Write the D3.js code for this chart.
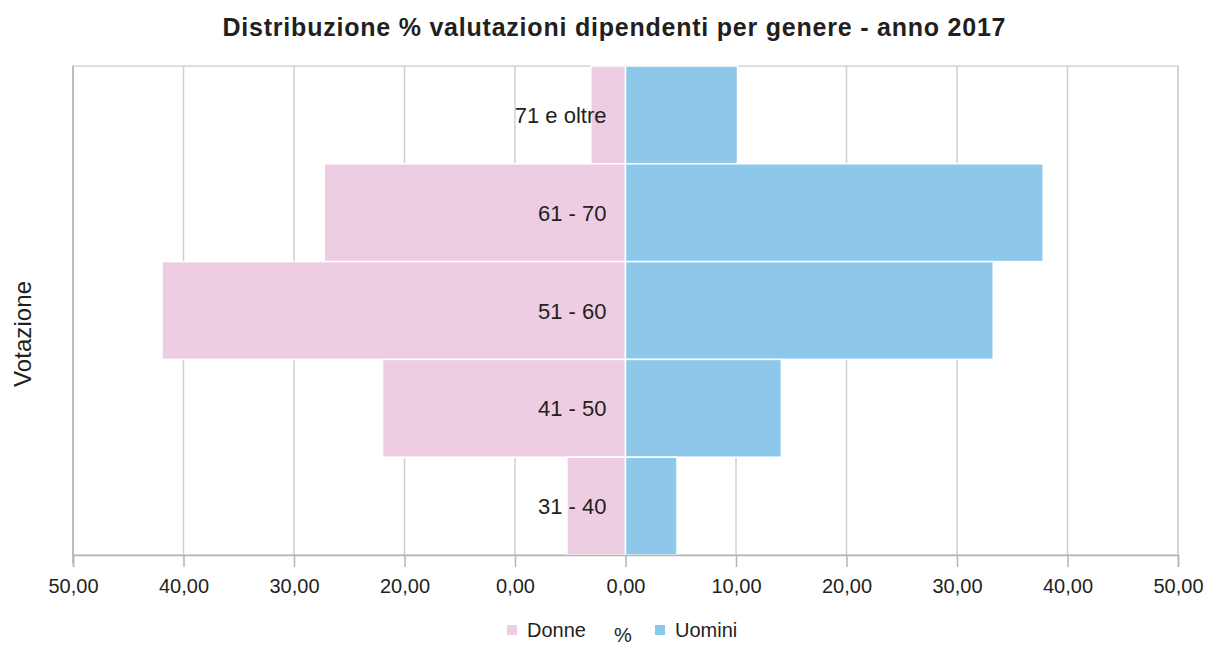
<!DOCTYPE html>
<html>
<head>
<meta charset="utf-8">
<script src="https://cdn.jsdelivr.net/npm/d3@7"></script>
<style>
  body { margin: 0; background: #fff; }
  svg { font-family: "Liberation Sans", Arial, sans-serif; }
</style>
</head>
<body>
<svg id="chart" width="1209" height="646"></svg>
<script>
// data
const categories = ["71 e oltre", "61 - 70", "51 - 60", "41 - 50", "31 - 40"];
const donne = [3.14, 27.26, 41.94, 21.98, 5.3];
const uomini = [10.14, 37.8, 33.28, 14.1, 4.66];
const tickValues = [-50, -40, -30, -20, -10, 0, 10, 20, 30, 40, 50];
// labels as printed in the original (note the "0,00" under -10)
const tickLabels = ["50,00", "40,00", "30,00", "20,00", "0,00", "0,00", "10,00", "20,00", "30,00", "40,00", "50,00"];

const svg = d3.select('#chart');
const plotLeft = 73, plotRight = 1178, plotTop = 66, plotBottom = 555;

const x = d3.scaleLinear().domain([-50, 50]).range([plotLeft, plotRight]);
const y = d3.scaleBand().domain(categories).range([plotTop, plotBottom]).padding(0);

// plot frame
svg.append('rect')
    .attr('x', plotLeft).attr('y', plotTop)
    .attr('width', plotRight - plotLeft).attr('height', plotBottom - plotTop)
    .attr('fill', 'none')
    .attr('stroke', '#d4d4d4')
    .attr('stroke-width', 1.5);

// vertical gridlines
svg.append('g')
    .selectAll('line')
    .data(tickValues)
    .enter()
    .append('line')
    .attr('x1', d => x(d)).attr('x2', d => x(d))
    .attr('y1', plotTop).attr('y2', plotBottom)
    .attr('stroke', '#cfcfcf')
    .attr('stroke-width', 1.5);

// bars
const rows = categories.map((c, i) => ({ cat: c, donne: donne[i], uomini: uomini[i] }));

svg.append('g')
    .selectAll('rect')
    .data(rows)
    .enter()
    .append('rect')
    .attr('x', d => x(-d.donne))
    .attr('y', d => y(d.cat))
    .attr('width', d => x(0) - x(-d.donne))
    .attr('height', y.bandwidth())
    .attr('fill', '#edcde1')
    .attr('stroke', '#fff')
    .attr('stroke-width', 1.5);

svg.append('g')
    .selectAll('rect')
    .data(rows)
    .enter()
    .append('rect')
    .attr('x', x(0))
    .attr('y', d => y(d.cat))
    .attr('width', d => x(d.uomini) - x(0))
    .attr('height', y.bandwidth())
    .attr('fill', '#8dc8eb')
    .attr('stroke', '#fff')
    .attr('stroke-width', 1.5);

// left axis line
svg.append('line')
    .attr('x1', plotLeft).attr('x2', plotLeft)
    .attr('y1', plotTop).attr('y2', plotBottom + 8)
    .attr('stroke', '#b4b4b4').attr('stroke-width', 1.5);

// bottom axis
const xAxis = d3.axisBottom(x)
    .tickValues(tickValues)
    .tickSize(12)
    .tickPadding(12)
    .tickFormat((d, i) => tickLabels[i]);

const gx = svg.append('g')
    .attr('transform', `translate(0,${plotBottom})`)
    .call(xAxis);
gx.select('.domain').attr('stroke', '#b4b4b4').attr('stroke-width', 1.5);
gx.selectAll('.tick line').attr('stroke', '#b4b4b4').attr('stroke-width', 1.5);
gx.selectAll('.tick text')
    .attr('fill', '#231f20')
    .style('font-size', '20px')
    .style('font-family', '"Liberation Sans", Arial, sans-serif');

// category labels, right aligned next to zero
svg.append('g')
    .selectAll('text')
    .data(categories)
    .enter()
    .append('text')
    .attr('x', x(0) - 19)
    .attr('y', d => y(d) + y.bandwidth() / 2 + 8)
    .attr('text-anchor', 'end')
    .attr('fill', '#231f20')
    .style('font-size', '22px')
    .text(d => d);

// title
svg.append('text')
    .attr('x', 614)
    .attr('y', 36)
    .attr('text-anchor', 'middle')
    .attr('fill', '#231f20')
    .attr('textLength', 783)
    .attr('lengthAdjust', 'spacing')
    .style('font-size', '25px')
    .style('font-weight', 'bold')
    .text('Distribuzione % valutazioni dipendenti per genere - anno 2017');

// axis titles
svg.append('text')
    .attr('transform', 'translate(31 334) rotate(-90)')
    .attr('text-anchor', 'middle')
    .attr('fill', '#231f20')
    .attr('textLength', 106)
    .attr('lengthAdjust', 'spacing')
    .style('font-size', '24px')
    .text('Votazione');

svg.append('text')
    .attr('x', 623)
    .attr('y', 642)
    .attr('text-anchor', 'middle')
    .attr('fill', '#231f20')
    .style('font-size', '20px')
    .text('%');

// legend
const legend = [
    { name: 'Donne', color: '#edcde1', x: 507 },
    { name: 'Uomini', color: '#8dc8eb', x: 655 }
];
const lg = svg.append('g')
    .selectAll('g')
    .data(legend)
    .enter()
    .append('g')
    .attr('transform', d => `translate(${d.x},625)`);
lg.append('rect')
    .attr('width', 10).attr('height', 10)
    .attr('fill', d => d.color);
lg.append('text')
    .attr('x', 20)
    .attr('y', 12)
    .attr('fill', '#231f20')
    .style('font-size', '20px')
    .text(d => d.name);
</script>
</body>
</html>
